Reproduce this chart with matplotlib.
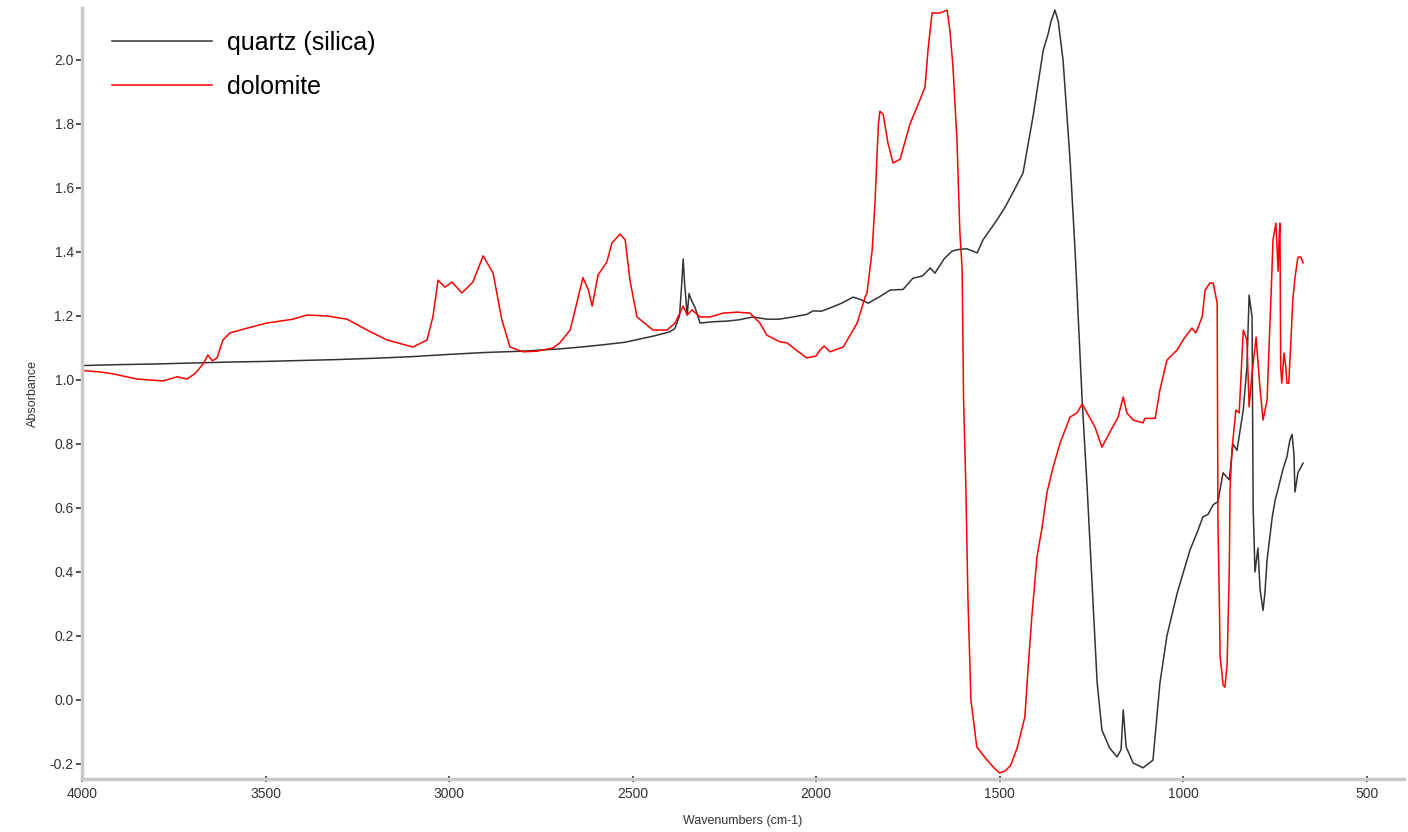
import matplotlib
matplotlib.use("Agg")
import matplotlib.pyplot as plt
from matplotlib.ticker import MultipleLocator
import numpy as np

plt.rcParams['font.family'] = ['Liberation Sans', 'DejaVu Sans']

# quartz (silica) spectrum
quartz_wn = [4000, 3900, 3800, 3700, 3600, 3500, 3400, 3300, 3200, 3100,
             3000, 2900, 2800, 2700, 2640, 2580, 2520, 2480, 2440, 2400,
             2385, 2372, 2366, 2362, 2358, 2351, 2346, 2338, 2330, 2316,
             2280, 2243, 2210, 2172, 2134, 2100, 2063, 2025, 2008, 1985,
             1962, 1930, 1899, 1880, 1858, 1830, 1798, 1763, 1736, 1710,
             1689, 1676, 1650, 1629, 1610, 1589, 1561, 1545, 1507, 1485,
             1463, 1436, 1409, 1381, 1368, 1360, 1349, 1340, 1327, 1308,
             1294, 1275, 1262, 1248, 1234, 1221, 1200, 1180, 1169, 1163,
             1155, 1136, 1109, 1082, 1063, 1044, 1016, 981, 959, 946,
             932, 918, 905, 891, 874, 864, 853, 836, 826, 820,
             812, 809, 804, 796, 790, 782, 777, 771, 757, 749,
             741, 728, 717, 709, 703, 698, 695, 687, 673]
quartz_abs = [1.045, 1.048, 1.050, 1.053, 1.056, 1.058, 1.061, 1.064, 1.068, 1.073,
              1.080, 1.086, 1.090, 1.097, 1.103, 1.110, 1.118, 1.128, 1.138, 1.150,
              1.160, 1.200, 1.300, 1.378, 1.300, 1.203, 1.270, 1.245, 1.228, 1.178,
              1.182, 1.184, 1.188, 1.197, 1.190, 1.190, 1.197, 1.205, 1.216, 1.215,
              1.225, 1.240, 1.259, 1.252, 1.240, 1.258, 1.281, 1.283, 1.318, 1.325,
              1.350, 1.334, 1.380, 1.403, 1.408, 1.410, 1.397, 1.438, 1.500, 1.540,
              1.587, 1.647, 1.822, 2.030, 2.080, 2.120, 2.156, 2.120, 2.000, 1.690,
              1.400, 0.938, 0.678, 0.366, 0.053, -0.094, -0.150, -0.178, -0.156, -0.031,
              -0.147, -0.197, -0.212, -0.188, 0.053, 0.200, 0.334, 0.469, 0.531, 0.572,
              0.580, 0.610, 0.620, 0.710, 0.688, 0.800, 0.780, 0.906, 1.040, 1.265,
              1.197, 0.600, 0.400, 0.475, 0.344, 0.280, 0.334, 0.438, 0.572, 0.625,
              0.660, 0.720, 0.760, 0.812, 0.830, 0.770, 0.650, 0.710, 0.740]

# dolomite spectrum
dolo_wn = [4000, 3950, 3915, 3850, 3779, 3741, 3714, 3692, 3670, 3657,
           3645, 3632, 3616, 3597, 3550, 3496, 3425, 3387, 3332, 3278,
           3223, 3169, 3098, 3060, 3044, 3030, 3011, 2992, 2965, 2935,
           2907, 2880, 2856, 2834, 2798, 2760, 2717, 2698, 2670, 2635,
           2620, 2610, 2594, 2570, 2556, 2534, 2520, 2507, 2488, 2444,
           2406, 2384, 2362, 2351, 2338, 2316, 2289, 2253, 2215, 2180,
           2153, 2134, 2098, 2079, 2050, 2025, 2000, 1989, 1978, 1962,
           1926, 1888, 1866, 1861, 1847, 1839, 1834, 1830, 1826, 1817,
           1804, 1790, 1771, 1744, 1717, 1703, 1695, 1684, 1662, 1643,
           1635, 1627, 1616, 1608, 1602, 1598, 1592, 1586, 1578, 1562,
           1534, 1515, 1500, 1485, 1470, 1452, 1431, 1422, 1412, 1398, 1384,
           1371, 1354, 1335, 1308, 1289, 1275, 1240, 1221, 1199, 1177,
           1163, 1153, 1136, 1109, 1104, 1076, 1063, 1044, 1016, 1000,
           976, 965, 948, 940, 927, 918, 907, 905, 901, 899,
           894, 891, 886, 880, 877, 874, 872, 867, 856, 847,
           836, 826, 820, 812, 801, 790, 782, 771, 765, 760,
           755, 747, 741, 738, 736, 734, 731, 725, 720, 717,
           712, 706, 701, 695, 687, 679, 673]
dolo_abs = [1.030, 1.025, 1.019, 1.003, 0.997, 1.010, 1.003, 1.020, 1.050, 1.078,
            1.060, 1.069, 1.125, 1.147, 1.162, 1.178, 1.190, 1.203, 1.200, 1.190,
            1.156, 1.125, 1.103, 1.125, 1.197, 1.312, 1.290, 1.306, 1.272, 1.306,
            1.388, 1.334, 1.188, 1.103, 1.088, 1.090, 1.100, 1.116, 1.156, 1.320,
            1.280, 1.231, 1.328, 1.369, 1.428, 1.456, 1.438, 1.312, 1.197, 1.156,
            1.156, 1.178, 1.231, 1.203, 1.219, 1.197, 1.197, 1.209, 1.212, 1.209,
            1.178, 1.140, 1.119, 1.116, 1.090, 1.069, 1.075, 1.094, 1.106, 1.088,
            1.103, 1.178, 1.260, 1.272, 1.406, 1.562, 1.700, 1.800, 1.840, 1.830,
            1.740, 1.678, 1.690, 1.800, 1.875, 1.916, 2.030, 2.147, 2.147, 2.156,
            2.090, 1.980, 1.750, 1.459, 1.350, 0.938, 0.678, 0.312, 0.000, -0.147,
            -0.188, -0.212, -0.228, -0.222, -0.205, -0.150, -0.053, 0.103, 0.260, 0.447, 0.540,
            0.647, 0.728, 0.803, 0.884, 0.897, 0.925, 0.853, 0.790, 0.838, 0.884,
            0.947, 0.897, 0.875, 0.866, 0.880, 0.880, 0.969, 1.062, 1.094, 1.125,
            1.162, 1.147, 1.197, 1.281, 1.303, 1.303, 1.240, 0.562, 0.300, 0.134,
            0.084, 0.047, 0.040, 0.109, 0.266, 0.410, 0.656, 0.780, 0.906, 0.897,
            1.156, 1.125, 0.916, 1.020, 1.134, 0.970, 0.875, 0.938, 1.125, 1.270,
            1.438, 1.490, 1.340, 1.450, 1.490, 1.040, 0.990, 1.084, 1.040, 0.990,
            0.990, 1.125, 1.250, 1.320, 1.384, 1.384, 1.366]

fig = plt.figure(figsize=(14.08, 8.32), dpi=100)
ax = fig.add_axes([82/1408, 53/832, 1322/1408, 771/832])

ax.plot(quartz_wn, quartz_abs, color='#333333', lw=1.1, label='quartz (silica)')
ax.plot(dolo_wn, dolo_abs, color='#ff0000', lw=1.1, label='dolomite')

ax.set_xlim(4000, 398)
ax.set_ylim(-0.247, 2.1625)
ax.xaxis.set_major_locator(MultipleLocator(500))
ax.xaxis.set_minor_locator(MultipleLocator(100))
ax.yaxis.set_major_locator(MultipleLocator(0.2))
ax.yaxis.set_minor_locator(MultipleLocator(0.04))
ax.yaxis.set_major_formatter(plt.FuncFormatter(lambda v, p: f"{v:.1f}"))

for s in ['top', 'right']:
    ax.spines[s].set_visible(False)
for s in ['left', 'bottom']:
    ax.spines[s].set_color('#c8c8c8')
    ax.spines[s].set_linewidth(2.5)

ax.tick_params(which='major', direction='inout', length=5, width=1.2,
               color='#333333', labelsize=10, labelcolor='#333333', pad=3)
ax.tick_params(axis='y', which='major', direction='out', length=4, pad=2)
ax.tick_params(which='minor', direction='inout', length=2, width=1.2,
               color='#333333')

ax.set_xlabel('Wavenumbers (cm-1)', fontsize=9, color='#333333', labelpad=10)
ax.set_ylabel('Absorbance', fontsize=9, color='#333333', labelpad=8)

ax.legend(loc='upper left', bbox_to_anchor=(112/1408, 1 - 31/832),
          bbox_transform=fig.transFigure, frameon=False, fontsize=18,
          handlelength=4, handletextpad=0.6, labelspacing=0.8,
          borderpad=0, borderaxespad=0)

fig.savefig('out.png', dpi=100)
